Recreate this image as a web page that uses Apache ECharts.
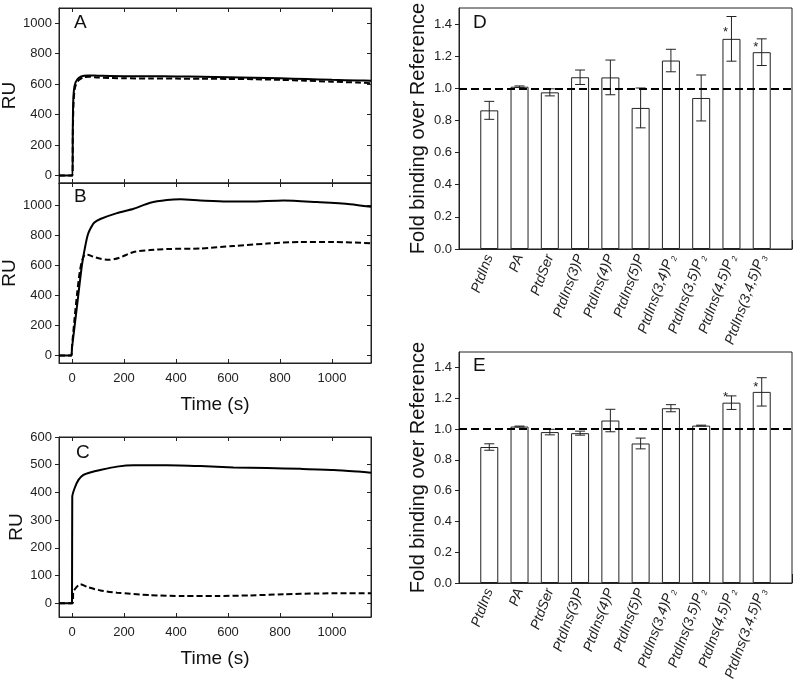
<!DOCTYPE html>
<html><head><meta charset="utf-8">
<script src="https://cdn.jsdelivr.net/npm/echarts@6/dist/echarts.min.js"></script>
<style>html,body{margin:0;padding:0;background:#fff}#c{width:800px;height:684px}</style>
</head><body><div id="c"></div>
<script>
// ---- Sensorgram data (time s, RU) ----
const aSolid = [[-50,0],[2,0],[3,300],[5,500],[10,590],[20,630],[35,650],[60,657],[100,655],[200,652],[300,652],[400,650],[500,648],[600,645],[700,642],[800,638],[900,633],[1000,628],[1100,624],[1150,622]];
const aDashed = [[-50,0],[2,0],[3,250],[6,480],[12,580],[25,625],[45,645],[70,648],[100,643],[200,638],[300,637],[400,636],[500,635],[600,634],[700,632],[800,628],[900,622],[1000,616],[1100,610],[1150,606]];
const bSolid = [[-50,0],[-3,0],[0,50],[19,326],[38,600],[50,720],[60,800],[70,843],[85,885],[109,910],[173,949],[237,978],[301,1018],[365,1036],[417,1041],[493,1034],[596,1027],[685,1027],[814,1034],[942,1023],[1070,1009],[1150,991]];
const bDashed = [[-50,0],[-3,0],[0,60],[10,250],[20,420],[30,560],[40,640],[50,672],[60,672],[80,660],[110,645],[141,638],[180,650],[237,690],[301,703],[365,710],[493,713],[621,730],[750,746],[878,757],[1006,757],[1150,748]];
const cSolid = [[-50,0],[0,0],[1,384],[10,415],[25,445],[44,463],[70,472],[109,481],[173,493],[237,498],[365,498],[493,495],[621,490],[750,488],[878,485],[1006,481],[1100,475],[1150,471]];
const cDashed = [[-50,0],[3,0],[5,40],[15,55],[32,68],[60,58],[109,46],[173,38],[301,29],[429,26],[557,26],[685,28],[814,32],[942,35],[1150,36]];
const timeTicks = [0,200,400,600,800,1000];
const ruTicksAB = [0,200,400,600,800,1000];
const ruTicksC = [0,100,200,300,400,500,600];

// ---- Lipid binding data ----
const lipids = ['PtdIns','PA','PtdSer','PtdIns(3)P','PtdIns(4)P','PtdIns(5)P','PtdIns(3,4)P2','PtdIns(3,5)P2','PtdIns(4,5)P2','PtdIns(3,4,5)P3'];
const foldD = [0.863,1.010,0.975,1.069,1.068,0.878,1.173,0.940,1.308,1.225];
const errD  = [0.056,0.005,0.022,0.045,0.108,0.124,0.070,0.143,0.139,0.083];
const starD = [null,null,null,null,null,null,null,null,1.369,1.276];
const foldE = [0.883,1.016,0.980,0.973,1.055,0.906,1.135,1.022,1.171,1.241];
const errE  = [0.021,0.003,0.018,0.013,0.073,0.035,0.023,0.003,0.044,0.092];
const starE = [null,null,null,null,null,null,null,null,1.224,1.288];
const foldTicks = [0,0.2,0.4,0.6,0.8,1.0,1.2,1.4];
const referenceLevel = 1.0;

const FONT = 'Liberation Sans, Arial, sans-serif';
const AX = '#222';
const chart = echarts.init(document.getElementById('c'));

const grids = [
  {left:59, top:8, width:312, height:175},
  {left:59, top:183, width:312, height:180},
  {left:59, top:437, width:312, height:180},
  {left:459, top:8, width:333, height:241},
  {left:459, top:352, width:333, height:231}
];
grids.forEach(g => { g.show = true; g.borderColor = AX; g.borderWidth = 1; g.backgroundColor = 'transparent'; g.containLabel = false; g.outerBoundsMode = 'none'; });

const plain = v => String(v);

function timeAxis(gi, pos, showLabels, name) {
  return {
    type:'value', gridIndex:gi, position:pos, min:-50, max:1150,
    axisLine:{show:true, onZero:false, lineStyle:{color:AX}},
    axisTick:{show:true, inside:true, length:4, customValues:timeTicks, lineStyle:{color:AX}},
    axisLabel:{show:showLabels, customValues:timeTicks, formatter:plain, color:'#222', fontSize:13, fontFamily:FONT, margin:9},
    splitLine:{show:false},
    name: name || '', nameLocation:'middle', nameGap:32,
    nameTextStyle:{fontSize:19, color:'#111', fontFamily:FONT}
  };
}
function ruAxis(gi, pos, min, max, ticks, showLabels) {
  return {
    type:'value', gridIndex:gi, position:pos, min:min, max:max,
    axisLine:{show:true, onZero:false, lineStyle:{color:AX}},
    axisTick:{show:true, inside: pos === 'right', length:4, customValues:ticks, lineStyle:{color:AX}},
    axisLabel:{show:showLabels, customValues:ticks, formatter:plain, color:'#222', fontSize:13, fontFamily:FONT, margin:7},
    splitLine:{show:false},
    name: showLabels ? 'RU' : '', nameLocation:'middle', nameGap:33,
    nameTextStyle:{fontSize:19, color:'#111', fontFamily:FONT}
  };
}
const cats = [''].concat(lipids, ['']);
function catAxis(gi) {
  return {
    type:'category', gridIndex:gi, data:cats, boundaryGap:false,
    axisLine:{show:true, onZero:false, lineStyle:{color:AX}},
    axisTick:{show:true, inside:true, length:9, interval:0, lineStyle:{color:AX}},
    axisLabel:{interval:0, rotate:70, margin:6, color:'#222', fontSize:14, fontStyle:'italic', fontFamily:FONT,
      formatter: v => v.replace(/P(\d)$/, 'P{s|$1}'),
      rich:{s:{fontSize:8, fontStyle:'italic', fontFamily:FONT, color:'#222', verticalAlign:'bottom', lineHeight:17, padding:[0,0,0,1]}}},
    splitLine:{show:false}
  };
}
function foldAxis(gi) {
  return {
    type:'value', gridIndex:gi, min:0, max:1.5,
    axisLine:{show:true, onZero:false, lineStyle:{color:AX}},
    axisTick:{show:true, length:4, customValues:foldTicks, lineStyle:{color:AX}},
    axisLabel:{customValues:foldTicks, color:'#222', fontSize:13, fontFamily:FONT, margin:7, formatter: v => v.toFixed(1)},
    splitLine:{show:false},
    name:'Fold binding over Reference', nameLocation:'middle', nameGap:31,
    nameTextStyle:{fontSize:20, color:'#111', fontFamily:FONT}
  };
}

const xAxis = [
  timeAxis(0,'bottom',false), timeAxis(0,'top',false),
  timeAxis(1,'bottom',true,'Time (s)'), timeAxis(1,'top',false),
  timeAxis(2,'bottom',true,'Time (s)'), timeAxis(2,'top',false),
  catAxis(3), catAxis(4)
];
const yAxis = [
  ruAxis(0,'left',-50,1100,ruTicksAB,true), ruAxis(0,'right',-50,1100,ruTicksAB,false),
  ruAxis(1,'left',-50,1150,ruTicksAB,true), ruAxis(1,'right',-50,1150,ruTicksAB,false),
  ruAxis(2,'left',-50,600,ruTicksC,true), ruAxis(2,'right',-50,600,ruTicksC,false),
  foldAxis(3), foldAxis(4)
];

function lineSeries(data, xi, yi, dashed) {
  return {type:'line', data:data, xAxisIndex:xi, yAxisIndex:yi, showSymbol:false, smooth:0.25,
    lineStyle:{color:'#000', width:2, type: dashed ? [6,3] : 'solid'}, z:3, silent:true};
}
function padded(arr) { return [null].concat(arr, [null]); }
function barSeries(vals, idx) {
  return {type:'bar', data:padded(vals), xAxisIndex:idx, yAxisIndex:idx, barWidth:18,
    itemStyle:{color:'#fff', borderColor:'#222', borderWidth:1}, silent:true, z:2,
    markLine:{silent:true, symbol:'none', label:{show:false},
      lineStyle:{color:'#000', width:2, type:[8,4]}, data:[{yAxis:referenceLevel}]}};
}
function errSeries(vals, errs, stars, idx) {
  const data = vals.map((v,i) => [i+1, v-errs[i], v+errs[i], stars[i] == null ? -1 : stars[i]]);
  return {type:'custom', xAxisIndex:idx, yAxisIndex:idx, data:data, z:4, silent:true,
    renderItem:function(params, api){
      const x = api.value(0), lo = api.value(1), hi = api.value(2), st = api.value(3);
      const pl = api.coord([x, lo]), ph = api.coord([x, hi]);
      const cw = 5;
      const st0 = {stroke:'#222', lineWidth:1};
      const ch = [
        {type:'line', shape:{x1:pl[0],y1:pl[1],x2:ph[0],y2:ph[1]}, style:st0},
        {type:'line', shape:{x1:pl[0]-cw,y1:pl[1],x2:pl[0]+cw,y2:pl[1]}, style:st0},
        {type:'line', shape:{x1:ph[0]-cw,y1:ph[1],x2:ph[0]+cw,y2:ph[1]}, style:st0}
      ];
      if (st > 0) {
        const ps = api.coord([x, st]);
        ch.push({type:'text', x:ps[0]-6, y:ps[1]+3, style:{text:'*', fill:'#222', fontSize:13, fontFamily:FONT, align:'center', verticalAlign:'middle'}});
      }
      return {type:'group', children:ch};
    }};
}

const letters = [['A',74,13],['B',74,187],['C',76,443],['D',473,13],['E',473,356]];

chart.setOption({
  animation:false,
  backgroundColor:'#fff',
  textStyle:{fontFamily:FONT},
  grid:grids, xAxis:xAxis, yAxis:yAxis,
  graphic: letters.map(l => ({type:'text', left:l[1], top:l[2], style:{text:l[0], fontSize:19, fill:'#111', fontFamily:FONT}})),
  series:[
    lineSeries(aSolid,0,0,false), lineSeries(aDashed,0,0,true),
    lineSeries(bSolid,2,2,false), lineSeries(bDashed,2,2,true),
    lineSeries(cSolid,4,4,false), lineSeries(cDashed,4,4,true),
    barSeries(foldD,6), errSeries(foldD,errD,starD,6),
    barSeries(foldE,7), errSeries(foldE,errE,starE,7)
  ]
});
</script></body></html>
